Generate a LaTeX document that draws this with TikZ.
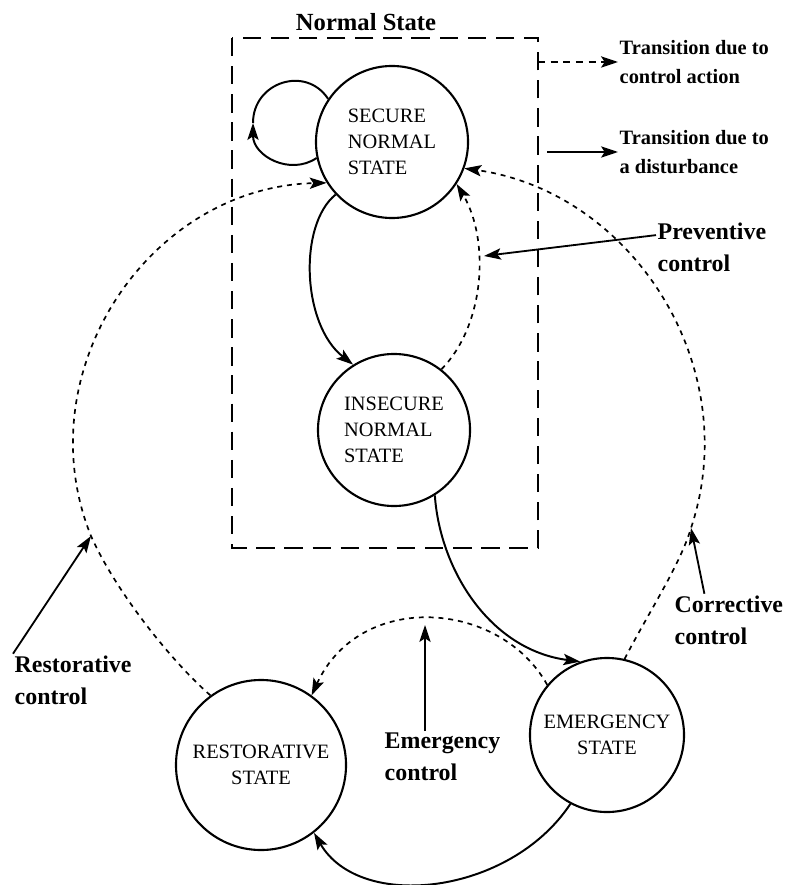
\documentclass[tikz,border=0pt]{standalone}
\usepackage{fontspec}
\setmainfont{Liberation Serif}
\usetikzlibrary{arrows.meta,calc}
\tikzset{
%Define standard arrow tip
>={Stealth[length=12pt,width=8pt,inset=2.5pt]},
%Define styles for the states and the transitions
state/.style={circle, draw, line width=1.5pt, minimum size=3.8cm, inner sep=0pt, align=center, font=\fontsize{14.5}{18.5}\selectfont},
disturbance/.style={->, line width=1.4pt},
control action/.style={->, line width=1.2pt, dash pattern=on 3.5pt off 3.5pt},
pointer/.style={->, line width=1.3pt},
label text/.style={align=left, inner sep=1pt, font=\bfseries\fontsize{17}{23}\selectfont},
legend text/.style={align=left, inner sep=1pt, font=\bfseries\fontsize{14.5}{20.5}\selectfont},
group box/.style={draw, line width=1.6pt, dash pattern=on 13pt off 7pt},
}
\begin{document}
\begin{tikzpicture}[x=0.025cm, y=-0.025cm]
    \useasboundingbox (0,0) rectangle (792,885);

    % normal state box
    \coordinate (box nw) at (232,38);
    \coordinate (box se) at (538,548);
    \draw[group box] (box nw) rectangle (box se);
    \node[font=\bfseries\fontsize{17.5}{20}\selectfont] (normal) at (366,22) {Normal State};

    % states
    \node[state, align=left] (secure) at (392,142) {SECURE\\NORMAL\\STATE};
    \node[state, align=left] (insecure) at (394,430) {INSECURE\\NORMAL\\STATE};
    \node[state, minimum size=4.25cm] (restorative) at (261,765) {RESTORATIVE\\STATE};
    \node[state, minimum size=3.85cm] (emergency) at (607,735) {EMERGENCY\\STATE};

    % self loop on the secure state
    \coordinate (looptip) at (253,123);
    \draw[disturbance] (secure.192) .. controls (290,176) and (253,156) .. (looptip);
    \draw[line width=1.4pt] (looptip) .. controls (253,82) and (306,65) .. (secure.146);

    % secure <-> insecure
    \draw[disturbance] (secure.223) .. controls (298,225) and (302,325) .. (insecure.122);
    \draw[control action] (insecure.52) .. controls (485,325) and (490,240) .. (secure.-33);

    % insecure -> emergency -> restorative
    \draw[disturbance] (insecure.-58) .. controls (440,570) and (490,650) .. (emergency.110);
    \draw[disturbance] (emergency.242) .. controls (510,895) and (360,912) .. (restorative.-52);

    % emergency control
    \draw[control action] (emergency.140) .. controls (500,600) and (360,590) .. (restorative.54);

    % corrective control
    \coordinate (corrtip) at (691,528);
    \draw[control action] (emergency.77) .. controls (650,610) and (680,565) .. (corrtip)
        .. controls (745,366) and (632,192) .. (secure.-20);

    % restorative control
    \coordinate (resttip) at (91,536);
    \draw[control action] (restorative.126) .. controls (170,660) and (115,590) .. (resttip)
        .. controls (25,372) and (149,187) .. (secure.212);

    % labels and pointers
    \coordinate (prevtip) at (484,256);
    \node[label text, anchor=west] (prevlbl) at (656,247) {Preventive\\control};
    \draw[pointer] (prevlbl.168) -- (prevtip);

    \node[label text, anchor=west] (corrlbl) at (673,620) {Corrective\\control};
    \draw[pointer] (corrlbl.133) -- (corrtip);

    \node[label text, anchor=west] (restlbl) at (13,680) {Restorative\\control};
    \draw[pointer] (restlbl.north west) -- (resttip);

    \coordinate (emertip) at (425,625);
    \node[label text, anchor=west] (emerlbl) at (383,757) {Emergency\\control};
    \draw[pointer] (emertip |- emerlbl.north) -- (emertip);

    % legend
    \node[legend text, anchor=west] (legdash) at (618,62) {Transition due to\\control action};
    \node[legend text, anchor=west] (legsolid) at (618,152) {Transition due to\\a disturbance};
    \coordinate (legsolid start) at (547,152);
    \draw[control action, line width=1.5pt, dash pattern=on 5pt off 4pt] (box se |- legdash.west) -- (legdash.west);
    \draw[disturbance] (legsolid start) -- (legsolid.west);
\end{tikzpicture}
\end{document}
